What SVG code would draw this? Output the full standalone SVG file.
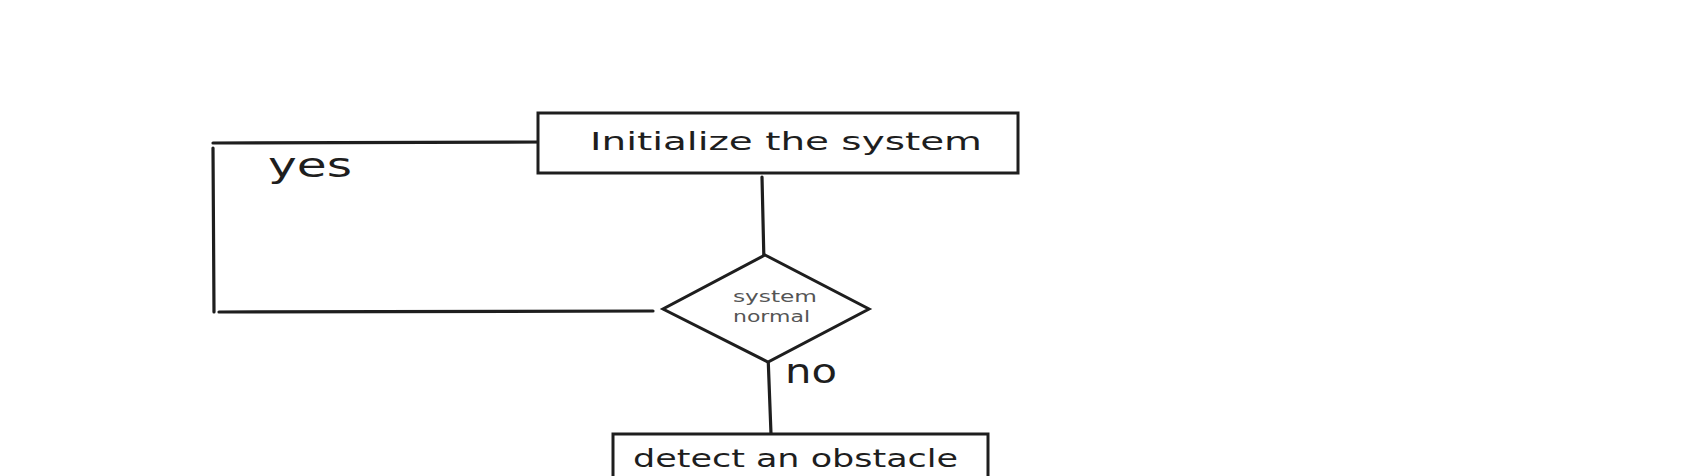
<svg xmlns="http://www.w3.org/2000/svg" width="1702" height="476" viewBox="0 0 1702 476">
<style>
.shape{fill:#ffffff;stroke:#1e1e1e;stroke-width:3}
.conn{fill:none;stroke:#1e1e1e;stroke-width:3.2;stroke-linecap:round}
.lbl{font-family:"DejaVu Sans","Liberation Sans",sans-serif;fill:#1e1e1e}
.small{font-family:"DejaVu Sans","Liberation Sans",sans-serif;fill:#555555}
</style>
<rect width="1702" height="476" fill="#ffffff"/>
<g id="connectors">
<line class="conn" x1="653" y1="311" x2="219" y2="312"/>
<line class="conn" x1="213" y1="148" x2="214" y2="312"/>
<line class="conn" x1="213" y1="143" x2="548" y2="142"/>
<line class="conn" x1="762" y1="177" x2="764" y2="263"/>
<line class="conn" x1="768" y1="355" x2="771" y2="434"/>
</g>
<g id="node-init">
<rect class="shape" x="538" y="113" width="480" height="60"/>
<text class="lbl" x="590" y="150" font-size="25" textLength="392" lengthAdjust="spacingAndGlyphs">Initialize the system</text>
</g>
<g id="node-decision">
<polygon class="shape" points="765,255 869,309 768,362 663,309"/>
<text class="small" x="733" y="302" font-size="16" textLength="84" lengthAdjust="spacingAndGlyphs">system</text>
<text class="small" x="733" y="322" font-size="16" textLength="77" lengthAdjust="spacingAndGlyphs">normal</text>
</g>
<g id="node-detect">
<rect class="shape" x="613" y="434" width="375" height="60"/>
<text class="lbl" x="633" y="467" font-size="24" textLength="325" lengthAdjust="spacingAndGlyphs">detect an obstacle</text>
</g>
<g id="labels">
<text class="lbl" x="268" y="177" font-size="34" textLength="84" lengthAdjust="spacingAndGlyphs">yes</text>
<text class="lbl" x="785" y="383" font-size="34" textLength="52" lengthAdjust="spacingAndGlyphs">no</text>
</g>
</svg>
